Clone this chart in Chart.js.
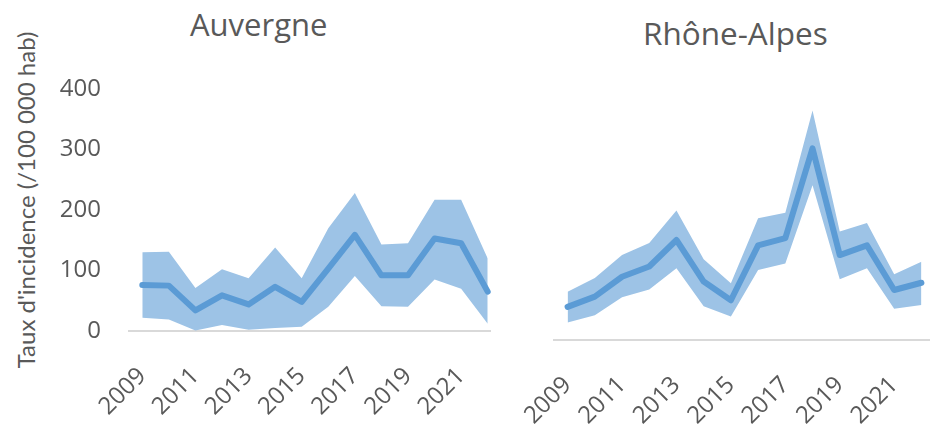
<!DOCTYPE html>
<html>
<head>
<meta charset="utf-8">
<script src="https://cdn.jsdelivr.net/npm/chart.js@4"></script>
<style>
  html, body { margin: 0; padding: 0; background: #fff; width: 930px; height: 425px; overflow: hidden; }
  .wrap { position: absolute; top: 0; overflow: hidden; height: 425px; }
  .ttl { position: absolute; font-family: "Open Sans", sans-serif; color: #595959; white-space: nowrap; }
</style>
</head>
<body>
<script>
const years = ["2009","2010","2011","2012","2013","2014","2015","2016","2017","2018","2019","2020","2021","2022"];
const yTicks = [0, 100, 200, 300, 400];

// Auvergne
const auvMean  = [76, 75, 34, 59, 44, 73, 48, 103, 159, 92, 92, 153, 145, 65];
const auvUpper = [130, 131, 71, 102, 87, 138, 87, 170, 228, 143, 145, 217, 217, 120];
const auvLower = [22, 19, 1, 10, 2, 5, 7, 40, 91, 41, 40, 85, 70, 12];

// Rhône-Alpes
const raMean  = [55, 72, 105, 122, 166, 97, 66, 157, 169, 318, 141, 157, 83, 95];
const raUpper = [80, 103, 141, 161, 215, 134, 94, 202, 211, 381, 180, 194, 109, 130];
const raLower = [29, 41, 71, 84, 119, 56, 39, 116, 127, 257, 101, 119, 52, 58];

const titles = ["Auvergne", "Rhône-Alpes"];
const yAxisTitle = "Taux d'incidence (/100 000 hab)";
</script>

<div class="ttl" id="t1" style="left:190px; top:3px; font-size:31px;"></div>
<div class="ttl" id="t2" style="left:643px; top:11px; font-size:31.5px;"></div>
<div class="ttl" id="yt" style="font-family:Lato, sans-serif; font-size:24px; left:25px; top:200px; transform: translate(-50%,-50%) rotate(-90deg);"></div>

<div class="wrap" style="left:0; width:491px;"><canvas id="c1" width="505" height="425" style="width:505px;height:425px;"></canvas></div>
<div class="wrap" style="left:495px; width:435px;"><canvas id="c2" width="445" height="425" style="width:445px;height:425px;"></canvas></div>

<script>
document.getElementById('t1').textContent = titles[0];
document.getElementById('t2').textContent = titles[1];
document.getElementById('yt').textContent = yAxisTitle;

const bandColor = '#9DC3E6';
const lineColor = '#5B9BD5';
const textColor = '#595959';

function makeChart(id, mean, upper, lower, opts) {
  return new Chart(document.getElementById(id), {
    type: 'line',
    data: {
      labels: years,
      datasets: [
        { data: upper, order: 2, borderWidth: 0, pointRadius: 0, backgroundColor: bandColor, fill: '+1', tension: 0 },
        { data: lower, order: 2, borderWidth: 0, pointRadius: 0, backgroundColor: bandColor, fill: false, tension: 0 },
        { data: mean, order: 0, borderColor: lineColor, borderWidth: 6, pointRadius: 0, fill: false, tension: 0,
          borderCapStyle: 'round', borderJoinStyle: 'round' }
      ]
    },
    options: {
      responsive: false,
      animation: false,
      events: [],
      layout: { padding: opts.padding },
      plugins: { legend: { display: false }, tooltip: { enabled: false }, title: { display: false } },
      scales: {
        x: {
          offset: true,
          grid: { display: false, drawTicks: false },
          border: { display: true, color: '#D9D9D9', width: 2 },
          ticks: {
            autoSkip: false, maxRotation: 45, minRotation: 45, padding: opts.xPad,
            color: textColor, font: { family: 'Open Sans', size: 24 },
            callback: function(v, i) { return i % 2 === 0 ? years[i] : ''; }
          },
          afterFit: function(s) { s.height = opts.xHeight; s.paddingLeft = 0; s.paddingRight = 0; }
        },
        y: {
          display: opts.showY,
          min: 0, max: 400,
          afterBuildTicks: function(s) { s.ticks = yTicks.map(v => ({ value: v })); },
          grid: { display: false, drawTicks: false },
          border: { display: false },
          ticks: { color: textColor, font: { family: 'Open Sans', size: 24 }, padding: 28 },
          afterFit: function(s) { s.width = opts.yWidth; s.paddingTop = 0; s.paddingBottom = 0; }
        }
      }
    }
  });
}

makeChart('c1', auvMean, auvUpper, auvLower, { padding: { top: 89, right: 4, left: 0, bottom: 0 }, xHeight: 94, yWidth: 129, showY: true, xPad: 31 });
makeChart('c2', raMean, raUpper, raLower, { padding: { top: 99, right: 5, left: 59, bottom: 0 }, xHeight: 85, yWidth: 0, showY: false, xPad: 31 });
</script>
</body>
</html>
